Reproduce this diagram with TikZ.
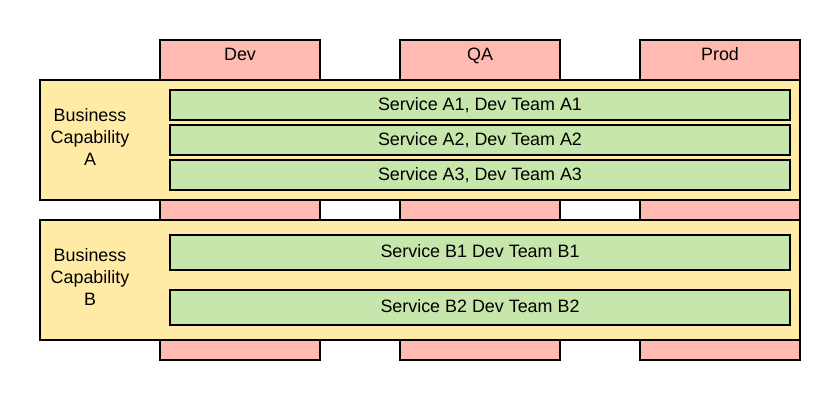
\documentclass[tikz,border=0pt]{standalone}
\usepackage{fontspec}
\setmainfont{Liberation Sans}
\usepackage{xcolor}
\definecolor{envpink}{HTML}{FFBBB1}
\definecolor{capyellow}{HTML}{FFEBA6}
\definecolor{svcgreen}{HTML}{C7E6AC}
\usepackage{tikz}
\usetikzlibrary{positioning}

\begin{document}
\begin{tikzpicture}[x=1pt, y=-1pt, line width=2pt, % Environments and capabilities
    env/.style={draw, fill=envpink, outer sep=0pt, minimum width=160pt, minimum height=320pt},
    capbox/.style={draw, fill=capyellow, outer sep=0pt, minimum width=760pt, minimum height=120pt},
    txt/.style={font=\fontsize{17.9}{21.7}\selectfont, inner sep=0pt},
    svc/.style={draw, fill=svcgreen, outer sep=0pt, minimum width=620pt, minimum height=30pt,
      font=\fontsize{17.9}{21.7}\selectfont, text height=12.8pt, text depth=2.5pt}]

      \useasboundingbox (0,0) rectangle (840,400);

      \node [env] (dev) at (240,200) {};
      \node [env, right=80pt of dev] (qa) {};
      \node [env, right=80pt of qa] (prod) {};
      \node [txt, below=7pt of dev.north] (devlbl) {Dev};
      \node [txt, below=7pt of qa.north] (qalbl) {QA};
      \node [txt, below=7pt of prod.north] (prodlbl) {Prod};

      \node [capbox] (capA) at (420,140) {};
      \node [capbox, below=20pt of capA] (capB) {};
      \node [txt, align=center] (capAlbl) at (90,137) {Business\\Capability\\A};
      \node [txt, align=center] (capBlbl) at (90,277) {Business\\Capability\\B};

      \node [svc] (svcA1) at (480,105) {Service A1, Dev Team A1};
      \node [svc, below=5pt of svcA1] (svcA2) {Service A2, Dev Team A2};
      \node [svc, below=5pt of svcA2] (svcA3) {Service A3, Dev Team A3};
      \node [svc, minimum height=35pt] (svcB1) at (480,252.5) {Service B1 Dev Team B1};
      \node [svc, minimum height=35pt, below=20pt of svcB1] (svcB2) {Service B2 Dev Team B2};

    \end{tikzpicture}
\end{document}
